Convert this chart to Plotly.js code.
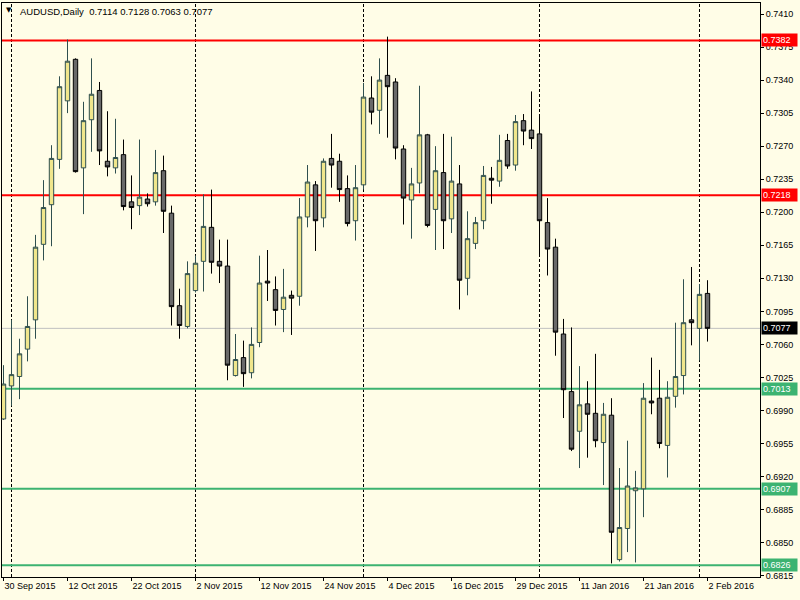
<!DOCTYPE html>
<html><head><meta charset="utf-8">
<script src="https://cdn.plot.ly/plotly-3.0.1.min.js"></script>
<style>html,body{margin:0;padding:0;background:#FFFDE7;} #chart{width:800px;height:600px;}</style>
</head><body><div id="chart"></div>
<script>
// ---- data ----
const dates = [
 '2015-09-30','2015-10-01','2015-10-02','2015-10-05','2015-10-06','2015-10-07','2015-10-08','2015-10-09',
 '2015-10-12','2015-10-13','2015-10-14','2015-10-15','2015-10-16','2015-10-19','2015-10-20','2015-10-21',
 '2015-10-22','2015-10-23','2015-10-26','2015-10-27','2015-10-28','2015-10-29','2015-10-30','2015-10-31',
 '2015-11-02','2015-11-03','2015-11-04','2015-11-05','2015-11-06','2015-11-09','2015-11-10','2015-11-11',
 '2015-11-12','2015-11-13','2015-11-16','2015-11-17','2015-11-18','2015-11-19','2015-11-20','2015-11-23',
 '2015-11-24','2015-11-25','2015-11-26','2015-11-27','2015-11-30','2015-12-01','2015-12-02','2015-12-03',
 '2015-12-04','2015-12-07','2015-12-08','2015-12-09','2015-12-10','2015-12-11','2015-12-14','2015-12-15',
 '2015-12-16','2015-12-17','2015-12-18','2015-12-21','2015-12-22','2015-12-23','2015-12-24','2015-12-28',
 '2015-12-29','2015-12-30','2015-12-31','2016-01-04','2016-01-05','2016-01-06','2016-01-07','2016-01-08',
 '2016-01-11','2016-01-12','2016-01-13','2016-01-14','2016-01-15','2016-01-18','2016-01-19','2016-01-20',
 '2016-01-21','2016-01-22','2016-01-25','2016-01-26','2016-01-27','2016-01-28','2016-01-29','2016-02-01',
 '2016-02-02'
];
const openP = [
 0.6981,0.7016,0.7026,0.7055,0.7086,0.7166,0.7208,0.7256,0.7318,0.7362,0.7247,0.7298,0.7329,0.7254,0.7247,0.7261,
 0.7211,0.7207,0.7214,0.7211,0.7244,0.7199,0.7101,0.7079,0.7117,0.7148,0.7184,0.7148,0.7143,0.7027,0.7046,0.7030,
 0.7062,0.7127,0.7118,0.7097,0.7112,0.7111,0.7195,0.7229,0.7194,0.7257,0.7254,0.7225,0.7191,0.7229,0.7321,0.7308,
 0.7345,0.7338,0.7267,0.7213,0.7231,0.7282,0.7203,0.7242,0.7193,0.7230,0.7130,0.7167,0.7191,0.7236,0.7233,0.7276,
 0.7250,0.7297,0.7287,0.7283,0.7189,0.7163,0.7071,0.7010,0.6968,0.6997,0.6987,0.6956,0.6985,0.6832,0.6865,0.6905,
 0.6907,0.7000,0.7003,0.6953,0.7005,0.7027,0.7086,0.7077,0.7114
];
const highP = [
 0.7038,0.7086,0.7066,0.7111,0.7176,0.7234,0.7271,0.7344,0.7383,0.7363,0.7317,0.7363,0.7338,0.7307,0.7299,0.7277,
 0.7239,0.7277,0.7220,0.7266,0.7260,0.7207,0.7119,0.7148,0.7154,0.7219,0.7224,0.7171,0.7171,0.7071,0.7064,0.7078,
 0.7154,0.7160,0.7132,0.7140,0.7117,0.7215,0.7250,0.7233,0.7257,0.7283,0.7262,0.7239,0.7250,0.7337,0.7344,0.7363,
 0.7386,0.7342,0.7271,0.7247,0.7334,0.7283,0.7270,0.7283,0.7280,0.7250,0.7201,0.7195,0.7249,0.7248,0.7282,0.7283,
 0.7303,0.7304,0.7328,0.7302,0.7215,0.7172,0.7087,0.7078,0.7037,0.7021,0.7050,0.6998,0.7003,0.6929,0.6958,0.6926,
 0.7019,0.7046,0.7033,0.7021,0.7083,0.7129,0.7142,0.7124,0.7128
];
const lowP = [
 0.6980,0.6995,0.7002,0.7042,0.7066,0.7149,0.7164,0.7246,0.7305,0.7242,0.7198,0.7264,0.7250,0.7238,0.7241,0.7202,
 0.7182,0.7197,0.7206,0.7207,0.7178,0.7080,0.7066,0.7077,0.7115,0.7116,0.7135,0.7125,0.7022,0.7026,0.7015,0.7024,
 0.7057,0.7106,0.7080,0.7073,0.7070,0.7101,0.7184,0.7159,0.7184,0.7226,0.7211,0.7185,0.7170,0.7224,0.7293,0.7283,
 0.7279,0.7256,0.7187,0.7172,0.7220,0.7184,0.7160,0.7161,0.7178,0.7097,0.7112,0.7161,0.7182,0.7209,0.7227,0.7246,
 0.7244,0.7271,0.7267,0.7153,0.7133,0.7048,0.6982,0.6947,0.6929,0.6940,0.6951,0.6911,0.6828,0.6830,0.6840,0.6829,
 0.6877,0.6986,0.6950,0.6919,0.6993,0.7007,0.7059,0.7043,0.7063
];
const closeP = [
 0.7018,0.7028,0.7050,0.7079,0.7163,0.7205,0.7257,0.7333,0.7360,0.7243,0.7297,0.7325,0.7265,0.7248,0.7258,0.7206,
 0.7205,0.7216,0.7209,0.7242,0.7201,0.7100,0.7080,0.7135,0.7146,0.7185,0.7147,0.7143,0.7038,0.7044,0.7029,0.7060,
 0.7125,0.7125,0.7096,0.7110,0.7109,0.7195,0.7232,0.7191,0.7254,0.7250,0.7224,0.7188,0.7226,0.7322,0.7306,0.7340,
 0.7333,0.7268,0.7215,0.7230,0.7282,0.7186,0.7244,0.7191,0.7233,0.7128,0.7172,0.7189,0.7239,0.7234,0.7255,0.7249,
 0.7296,0.7286,0.7278,0.7191,0.7161,0.7073,0.7012,0.6949,0.6996,0.6986,0.6958,0.6986,0.6861,0.6866,0.6910,0.6908,
 0.7003,0.6998,0.6955,0.7004,0.7026,0.7083,0.7083,0.7113,0.7077
];
const tickDates  = ['2015-09-30','2015-10-12','2015-10-22','2015-11-02','2015-11-12','2015-11-24','2015-12-04','2015-12-16','2015-12-29','2016-01-11','2016-01-21','2016-02-02'];
const tickLabels = ['30 Sep 2015','12 Oct 2015','22 Oct 2015','2 Nov 2015','12 Nov 2015','24 Nov 2015','4 Dec 2015','16 Dec 2015','29 Dec 2015','11 Jan 2016','21 Jan 2016','2 Feb 2016'];
const separatorDates = ['2015-10-01','2015-11-02','2015-12-01','2016-01-04','2016-02-01'];
const redLevels = [0.7382, 0.7218];
const greenLevels = [0.7013, 0.6907, 0.6826];
const symbolName = 'AUDUSD,Daily';

// ---- styling ----
const BG = '#FFFDE7';
const FONT = 'Liberation Sans, Arial, sans-serif';
const bidLevel = closeP[closeP.length - 1];
const last = closeP.length - 1;

const shapes = [];
const annotations = [];
separatorDates.forEach(d => {
  const idx = dates.indexOf(d);
  shapes.push({type:'line', layer:'below', xref:'x', yref:'paper', x0:idx, x1:idx, y0:0, y1:1,
               line:{color:'#000000', width:1, dash:'3px,2px'}});
});
function hline(level, color, width) {
  shapes.push({type:'line', layer:'below', xref:'paper', yref:'y', x0:0, x1:1, y0:level, y1:level,
               line:{color:color, width:width}});
}
function tag(level, bg) {
  annotations.push({xref:'paper', yref:'y', x:1, y:level, xanchor:'left', yanchor:'middle', xshift:1,
    text:level.toFixed(4), showarrow:false, bgcolor:bg, borderpad:1, width:33, height:10, align:'left',
    font:{family:FONT, size:9, color:'#FFFFFF'}});
}
hline(bidLevel, '#C0C0C0', 1);
redLevels.forEach(l => hline(l, '#FF0000', 2));
greenLevels.forEach(l => hline(l, '#3CB371', 2));
redLevels.forEach(l => tag(l, '#FF0000'));
greenLevels.forEach(l => tag(l, '#3CB371'));
tag(bidLevel, '#000000');

annotations.push({xref:'paper', yref:'paper', x:0, y:1, xanchor:'left', yanchor:'top', xshift:16, yshift:-1,
  showarrow:false, align:'left',
  text: symbolName + '  ' + [openP[last], highP[last], lowP[last], closeP[last]].map(v => v.toFixed(4)).join(' '),
  font:{family:FONT, size:9.5, color:'#000000'}});
annotations.push({xref:'paper', yref:'paper', x:0, y:1, xanchor:'left', yanchor:'top', xshift:2, yshift:-1,
  showarrow:false, text:'▼', font:{family:'DejaVu Sans', size:7, color:'#000000'}});

const trace = {
  type:'candlestick', x:dates, open:openP, high:highP, low:lowP, close:closeP,
  increasing:{fillcolor:'#F0E68C', line:{color:'#2F4F4F', width:1}},
  decreasing:{fillcolor:'#696969', line:{color:'#000000', width:1}},
  whiskerwidth:0, hoverinfo:'none'
};

const layout = {
  width:800, height:600,
  paper_bgcolor:BG, plot_bgcolor:BG,
  margin:{l:2, r:40, t:3, b:23},
  showlegend:false,
  boxgap:0.45, boxgroupgap:0,
  font:{family:FONT, size:9, color:'#000000'},
  xaxis:{type:'category', range:[-0.1875, 94.5625], rangeslider:{visible:false},
    tickmode:'array', tickvals:tickDates, ticktext:tickLabels,
    ticks:'outside', ticklen:3, tickcolor:'#000000', ticklabelposition:'outside right',
    showgrid:false, zeroline:false, showline:true, linecolor:'#000000', linewidth:1, mirror:true,
    tickfont:{family:FONT, size:9, color:'#000000'}},
  yaxis:{side:'right', range:[0.68136, 0.742165], tick0:0.6815, dtick:0.0035, tickformat:'.4f',
    ticks:'outside', ticklen:3, tickcolor:'#000000',
    showgrid:false, zeroline:false, showline:true, linecolor:'#000000', linewidth:1, mirror:true,
    tickfont:{family:FONT, size:9, color:'#000000'}},
  shapes:shapes, annotations:annotations
};

Plotly.newPlot('chart', [trace], layout, {displayModeBar:false, staticPlot:true});
</script></body></html>
